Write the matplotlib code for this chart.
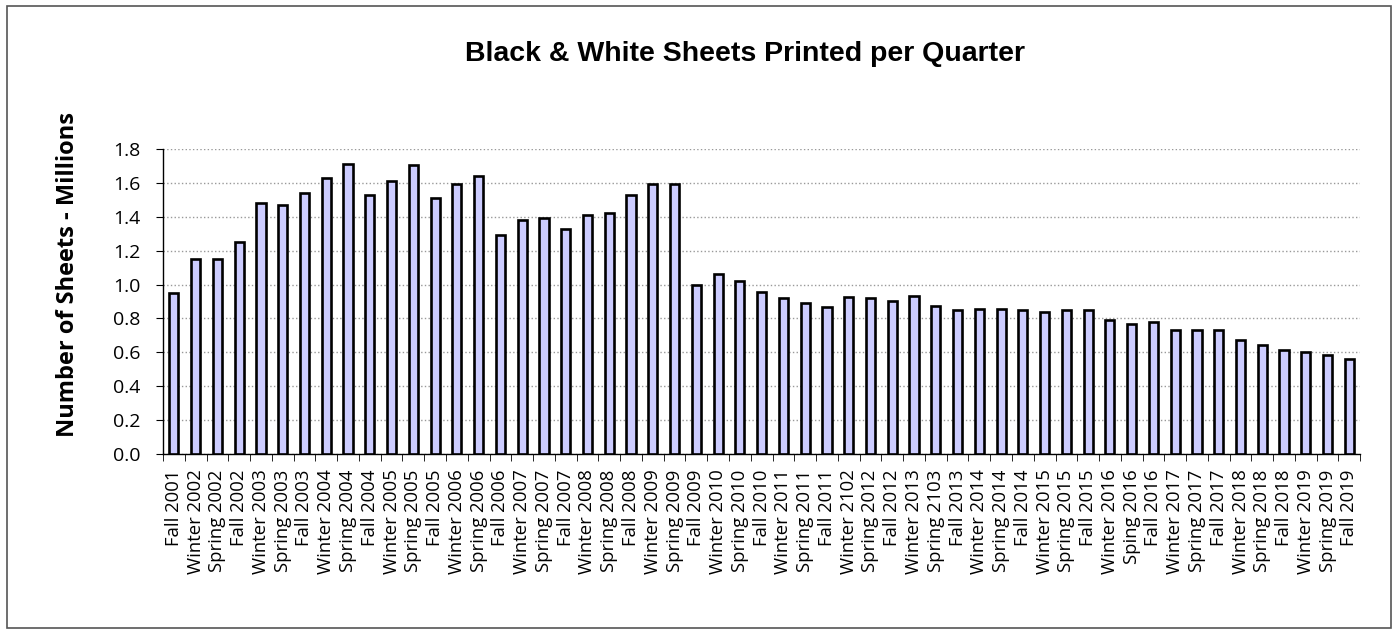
import numpy as np
import matplotlib
matplotlib.use("Agg")
import matplotlib.pyplot as plt
from matplotlib.patches import Rectangle

# quarter labels (typos kept as in the original chart)
quarters = [
    "Fall 2001", "Winter 2002", "Spring 2002", "Fall 2002",
    "Winter 2003", "Spring 2003", "Fall 2003",
    "Winter 2004", "Spring 2004", "Fall 2004",
    "Winter 2005", "Spring 2005", "Fall 2005",
    "Winter 2006", "Spring 2006", "Fall 2006",
    "Winter 2007", "Spring 2007", "Fall 2007",
    "Winter 2008", "Spring 2008", "Fall 2008",
    "Winter 2009", "Spring 2009", "Fall 2009",
    "Winter 2010", "Spring 2010", "Fall 2010",
    "Winter 2011", "Spring 2011", "Fall 2011",
    "Winter 2102", "Spring 2012", "Fall 2012",
    "Winter 2013", "Spring 2103", "Fall 2013",
    "Winter 2014", "Spring 2014", "Fall 2014",
    "Winter 2015", "Spring 2015", "Fall 2015",
    "Winter 2016", "Sping 2016", "Fall 2016",
    "Winter 2017", "Spring 2017", "Fall 2017",
    "Winter 2018", "Spring 2018", "Fall 2018",
    "Winter 2019", "Spring 2019", "Fall 2019",
]

# sheets printed, millions
sheets = [
    0.95, 1.15, 1.15, 1.25,
    1.48, 1.47, 1.54,
    1.63, 1.71, 1.53,
    1.61, 1.705, 1.51,
    1.595, 1.64, 1.29,
    1.38, 1.39, 1.33,
    1.41, 1.42, 1.53,
    1.595, 1.595, 1.00,
    1.065, 1.02, 0.955,
    0.92, 0.89, 0.87,
    0.925, 0.92, 0.905,
    0.93, 0.875, 0.85,
    0.858, 0.855, 0.848,
    0.838, 0.85, 0.852,
    0.79, 0.767, 0.781,
    0.734, 0.73, 0.734,
    0.673, 0.645, 0.614,
    0.604, 0.582, 0.561,
]

yticks = np.arange(0, 1.81, 0.2)

fig = plt.figure(figsize=(13.98, 6.3), dpi=100)
ax = fig.add_axes([0.1166, 0.2794, 0.8564, 0.4841])

x = np.arange(len(quarters))
ax.bar(x, sheets, width=0.42, color="#CCCCFF", edgecolor="black",
       linewidth=1.9, zorder=3)

ax.set_xlim(-0.5, len(quarters) - 0.5)
ax.set_ylim(0, 1.8)
ax.set_yticks(yticks)
ax.set_yticklabels([f"{v:.1f}" for v in yticks], family="Open Sans", fontsize=14)
ax.yaxis.grid(True, linestyle=":", color="#999999", linewidth=1.0, zorder=0)

ax.set_xticks(x)
ax.set_xticklabels(quarters, rotation=90, family="Open Sans", fontsize=13.3)
ax.set_xticks(np.arange(-0.5, len(quarters), 1), minor=True)
ax.tick_params(axis="x", which="major", length=0, pad=11)
ax.tick_params(axis="x", which="minor", length=5, direction="out", color="black")
ax.tick_params(axis="y", length=5, direction="out", color="black", pad=11)

for side in ["top", "right"]:
    ax.spines[side].set_visible(False)
ax.spines["left"].set_linewidth(1.0)
ax.spines["bottom"].set_linewidth(1.0)

ax.set_ylabel("Number of Sheets - Millions", family="Open Sans",
              fontweight="bold", fontsize=17)
ax.yaxis.set_label_coords(-0.069, 0.587)

fig.text(0.533, 0.915, "Black & White Sheets Printed per Quarter",
         family="Liberation Sans", fontweight="bold", fontsize=20.5,
         ha="center", va="center")

# outer border around the chart
fig.patches.append(Rectangle((0.005, 0.003), 0.99, 0.987, transform=fig.transFigure,
                             fill=False, edgecolor="#555555", linewidth=1.2))

fig.savefig("out.png", dpi=100)
